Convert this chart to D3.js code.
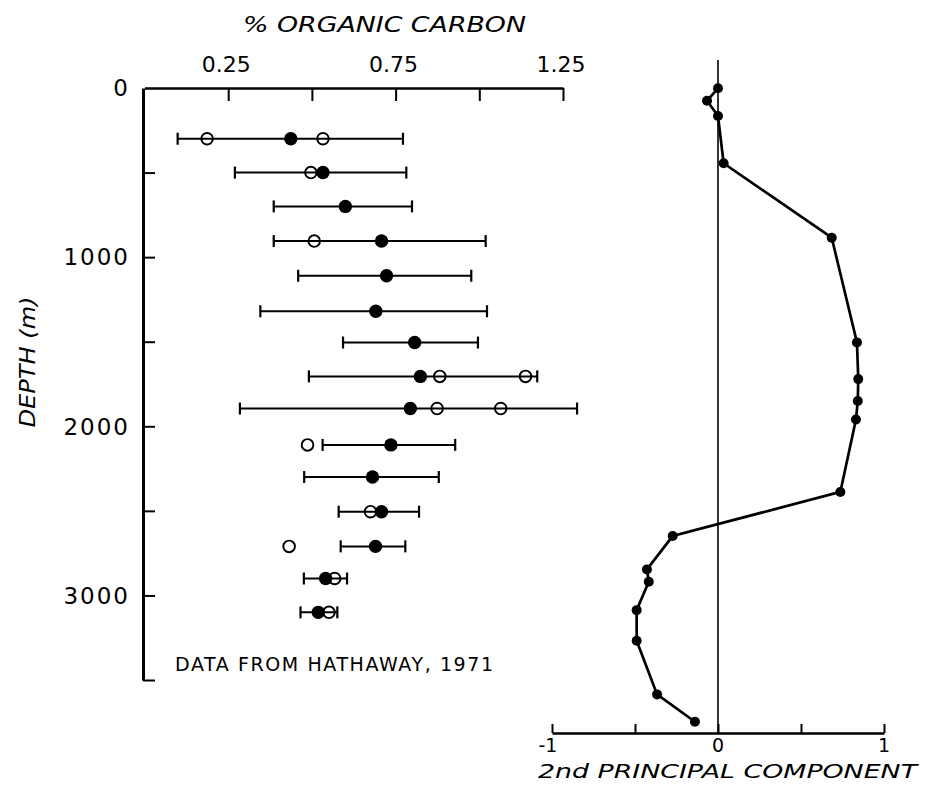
<!DOCTYPE html>
<html>
<head>
<meta charset="utf-8">
<script src="https://d3js.org/d3.v7.min.js"></script>
<style>
  body { margin: 0; background: #fff; }
  text { font-family: "DejaVu Sans", sans-serif; fill: #000; }
</style>
</head>
<body>
<div id="chart"></div>
<script>
var svgWidth = 932;
var svgHeight = 787;

// organic carbon data (Hathaway, 1971)
var depths = [300, 500, 700, 905, 1110, 1320, 1505, 1705, 1895, 2110, 2300, 2505, 2710, 2900, 3100];
var meanCarbon = [0.437, 0.533, 0.600, 0.708, 0.723, 0.691, 0.807, 0.824, 0.794, 0.736, 0.681, 0.708, 0.690, 0.541, 0.519];
var lowCarbon = [0.099, 0.270, 0.386, 0.386, 0.459, 0.346, 0.593, 0.491, 0.285, 0.532, 0.477, 0.580, 0.586, 0.476, 0.466];
var highCarbon = [0.772, 0.782, 0.799, 1.019, 0.976, 1.023, 0.996, 1.173, 1.292, 0.928, 0.879, 0.820, 0.779, 0.605, 0.576];

// single samples (open circles)
var openDepths = [300, 300, 500, 905, 1705, 1705, 1895, 1895, 2110, 2505, 2710, 2900, 3100];
var openCarbon = [0.187, 0.533, 0.497, 0.507, 0.882, 1.138, 0.874, 1.064, 0.487, 0.675, 0.432, 0.568, 0.551];

// 2nd principal component profile
var pcDepths = [2, 75, 166, 445, 885, 1504, 1721, 1851, 1960, 2388, 2649, 2846, 2919, 3087, 3268, 3585, 3747];
var pcValues = [0.0, -0.066, 0.0, 0.034, 0.685, 0.837, 0.845, 0.842, 0.831, 0.737, -0.273, -0.428, -0.417, -0.490, -0.490, -0.367, -0.139];

// tick labels
var carbonTicks = [0.25, 0.5, 0.75, 1.0, 1.25];
var carbonLabels = ["0.25", "0.75", "1.25"];
var depthTicks = [500, 1000, 1500, 2000, 2500, 3000, 3500];
var depthLabels = [0, 1000, 2000, 3000];
var pcTicks = [-1, -0.5, 0, 0.5, 1];
var pcLabels = ["-1", "0", "1"];

var svg = d3.select("#chart")
    .append("svg")
    .attr("width", svgWidth)
    .attr("height", svgHeight);

// scales
var yScale = d3.scaleLinear().domain([0, 3500]).range([88, 680]);
var xCarbon = d3.scaleLinear().domain([0, 1.25]).range([144.5, 563]);
var xPC = d3.scaleLinear().domain([-1, 1]).range([552, 884]);

// ---- left panel axes ----
// top axis (ticks hang down)
var topAxis = d3.axisBottom(xCarbon)
    .tickValues(carbonTicks)
    .tickSize(13)
    .tickSizeOuter(0)
    .tickFormat("");
var topG = svg.append("g")
    .attr("transform", "translate(0, 88)")
    .call(topAxis);
topG.select(".domain").attr("stroke-width", 2.5);
topG.selectAll(".tick line").attr("stroke-width", 2);

topG.selectAll(".lbl")
    .data(carbonLabels)
    .enter()
    .append("text")
    .attr("x", d => xCarbon(+d) - 2)
    .attr("y", -16)
    .attr("text-anchor", "middle")
    .style("font-size", "22px")
    .text(d => d);

// left axis (ticks point right)
var leftAxis = d3.axisRight(yScale)
    .tickValues(depthTicks)
    .tickSize(12)
    .tickSizeOuter(0)
    .tickFormat("");
var leftG = svg.append("g")
    .attr("transform", "translate(143, 0)")
    .call(leftAxis);
leftG.select(".domain").attr("stroke-width", 3);
leftG.selectAll(".tick line").attr("stroke-width", 2);

leftG.selectAll(".lbl")
    .data(depthLabels)
    .enter()
    .append("text")
    .attr("x", -13)
    .attr("y", d => yScale(d))
    .attr("dy", "0.36em")
    .attr("text-anchor", "end")
    .style("font-size", "23px")
    .style("letter-spacing", "2px")
    .text(d => d);

// error bars
var bars = svg.append("g");
bars.selectAll("line.bar")
    .data(depths)
    .enter()
    .append("line")
    .attr("x1", (d, i) => xCarbon(lowCarbon[i]))
    .attr("x2", (d, i) => xCarbon(highCarbon[i]))
    .attr("y1", d => yScale(d))
    .attr("y2", d => yScale(d))
    .attr("stroke", "#000")
    .attr("stroke-width", 2);

[lowCarbon, highCarbon].forEach(function (arr) {
    bars.selectAll(null)
        .data(depths)
        .enter()
        .append("line")
        .attr("x1", (d, i) => xCarbon(arr[i]))
        .attr("x2", (d, i) => xCarbon(arr[i]))
        .attr("y1", d => yScale(d) - 6)
        .attr("y2", d => yScale(d) + 6)
        .attr("stroke", "#000")
        .attr("stroke-width", 2.2);
});

// open circles
svg.append("g").selectAll("circle")
    .data(openDepths)
    .enter()
    .append("circle")
    .attr("cx", (d, i) => xCarbon(openCarbon[i]))
    .attr("cy", d => yScale(d))
    .attr("r", 5.8)
    .attr("fill", "none")
    .attr("stroke", "#000")
    .attr("stroke-width", 1.9);

// mean values
svg.append("g").selectAll("circle")
    .data(depths)
    .enter()
    .append("circle")
    .attr("cx", (d, i) => xCarbon(meanCarbon[i]))
    .attr("cy", d => yScale(d))
    .attr("r", 6.7)
    .attr("fill", "#000");

// ---- right panel ----
var bottomAxis = d3.axisTop(xPC)
    .tickValues(pcTicks)
    .tickSize(9)
    .tickSizeOuter(0)
    .tickFormat("");
var botG = svg.append("g")
    .attr("transform", "translate(0, 733)")
    .call(bottomAxis);
botG.select(".domain").attr("stroke-width", 2.5);
botG.selectAll(".tick line").attr("stroke-width", 2);

botG.selectAll(".lbl")
    .data(pcLabels)
    .enter()
    .append("text")
    .attr("x", d => xPC(+d) - (d === "-1" ? 4 : 0))
    .attr("y", 19)
    .attr("text-anchor", "middle")
    .style("font-size", "19px")
    .text(d => d);

// zero line
svg.append("line")
    .attr("x1", xPC(0))
    .attr("x2", xPC(0))
    .attr("y1", 60)
    .attr("y2", 733)
    .attr("stroke", "#000")
    .attr("stroke-width", 1.6);

var pcData = pcDepths.map((d, i) => ({ depth: d, value: pcValues[i] }));

var pcLine = d3.line()
    .x(d => xPC(d.value))
    .y(d => yScale(d.depth));

svg.append("path")
    .datum(pcData)
    .attr("d", pcLine)
    .attr("fill", "none")
    .attr("stroke", "#000")
    .attr("stroke-width", 2.7);

svg.append("g").selectAll("circle")
    .data(pcData)
    .enter()
    .append("circle")
    .attr("cx", d => xPC(d.value))
    .attr("cy", d => yScale(d.depth))
    .attr("r", 5)
    .attr("fill", "#000");

// ---- titles ----
svg.append("text")
    .attr("x", 243)
    .attr("y", 32)
    .attr("textLength", 283)
    .attr("lengthAdjust", "spacingAndGlyphs")
    .style("font-size", "21px")
    .style("font-style", "italic")
    .text("% ORGANIC CARBON");

svg.append("text")
    .attr("transform", "translate(35, 362) rotate(-90)")
    .attr("text-anchor", "middle")
    .attr("textLength", 131)
    .attr("lengthAdjust", "spacingAndGlyphs")
    .style("font-size", "22px")
    .style("font-style", "italic")
    .text("DEPTH (m)");

svg.append("text")
    .attr("x", 175)
    .attr("y", 671)
    .attr("textLength", 318)
    .attr("lengthAdjust", "spacing")
    .style("font-size", "19px")
    .text("DATA FROM HATHAWAY, 1971");

svg.append("text")
    .attr("x", 538)
    .attr("y", 778)
    .attr("textLength", 379)
    .attr("lengthAdjust", "spacingAndGlyphs")
    .style("font-size", "20px")
    .style("font-style", "italic")
    .text("2nd PRINCIPAL COMPONENT");
</script>
</body>
</html>
